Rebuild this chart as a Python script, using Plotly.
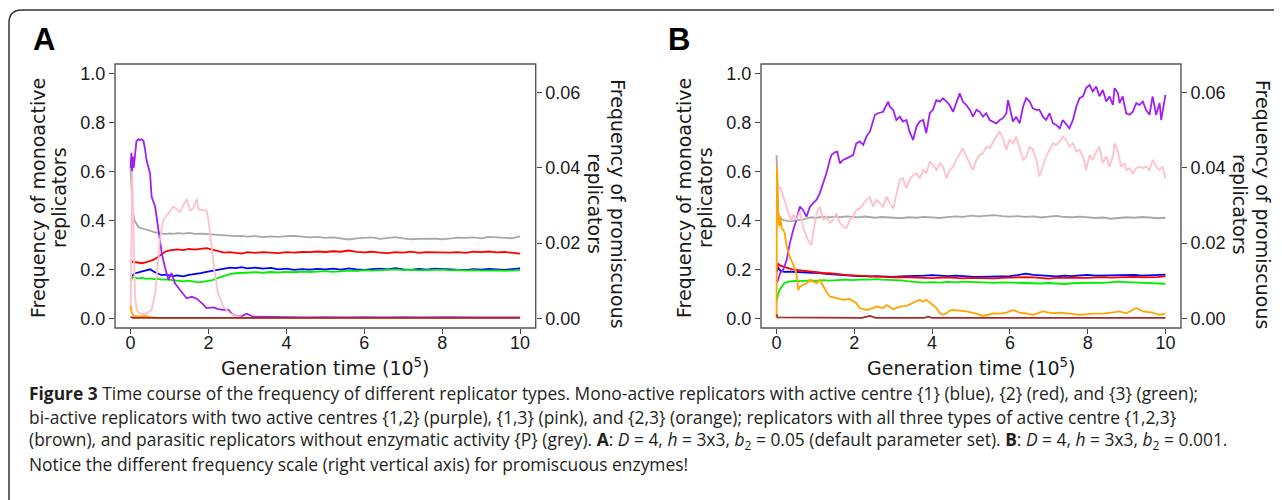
import plotly.graph_objects as go

W, H = 1282, 500
PAGE_OFFSET = 8  # default body margin of the html page

# ---- data ----
# generation time (10^5) used for mono-active and parasitic series
t_mono = [0, 0.05, 0.1, 0.2, 0.3, 0.4, 0.5, 0.6, 0.7, 0.8, 0.9, 1.0, 1.1, 1.2, 1.35, 1.5, 1.65, 1.8, 1.95,
          2.1, 2.25, 2.4, 2.55, 2.7, 2.85, 3.0, 3.2, 3.4, 3.6, 3.8, 4.0, 4.2, 4.4, 4.6, 4.8, 5.0, 5.2, 5.4,
          5.6, 5.8, 6.0, 6.2, 6.4, 6.6, 6.8, 7.0, 7.2, 7.4, 7.6, 7.8, 8.0, 8.2, 8.4, 8.6, 8.8, 9.0, 9.2,
          9.4, 9.6, 9.8, 10.0]

# panel A, left axis
a_grey = [0.62, 0.45, 0.40, 0.373, 0.367, 0.364, 0.358, 0.352, 0.350, 0.346, 0.344, 0.347, 0.345, 0.348,
          0.346, 0.349, 0.345, 0.346, 0.344, 0.343, 0.342, 0.340, 0.339, 0.336, 0.337, 0.334, 0.336, 0.332,
          0.335, 0.333, 0.336, 0.337, 0.334, 0.331, 0.333, 0.329, 0.331, 0.326, 0.322, 0.327, 0.328, 0.331,
          0.325, 0.329, 0.332, 0.327, 0.323, 0.325, 0.327, 0.326, 0.323, 0.328, 0.330, 0.329, 0.331, 0.327,
          0.333, 0.331, 0.329, 0.327, 0.335]
a_red = [0.228, 0.232, 0.23, 0.226, 0.225, 0.229, 0.234, 0.24, 0.25, 0.262, 0.273, 0.278, 0.28, 0.282,
         0.279, 0.284, 0.281, 0.283, 0.287, 0.281, 0.274, 0.268, 0.27, 0.266, 0.264, 0.27, 0.267, 0.27,
         0.268, 0.266, 0.27, 0.268, 0.271, 0.27, 0.273, 0.271, 0.274, 0.272, 0.277, 0.271, 0.269, 0.272,
         0.268, 0.266, 0.27, 0.268, 0.272, 0.267, 0.27, 0.269, 0.271, 0.268, 0.27, 0.267, 0.272, 0.27,
         0.273, 0.269, 0.271, 0.268, 0.264]
a_blue = [0.16, 0.175, 0.183, 0.188, 0.19, 0.196, 0.2, 0.19, 0.182, 0.176, 0.178, 0.174, 0.172, 0.175,
          0.171, 0.177, 0.18, 0.184, 0.19, 0.195, 0.198, 0.203, 0.207, 0.205, 0.209, 0.204, 0.207, 0.203,
          0.206, 0.2, 0.203, 0.198, 0.201, 0.199, 0.202, 0.2, 0.203, 0.199, 0.204, 0.2, 0.198, 0.201, 0.203,
          0.2, 0.205, 0.2, 0.198, 0.202, 0.199, 0.203, 0.201, 0.199, 0.2, 0.197, 0.201, 0.199, 0.202, 0.2,
          0.198, 0.201, 0.204]
a_green = [0.15, 0.168, 0.166, 0.163, 0.165, 0.161, 0.163, 0.16, 0.161, 0.158, 0.159, 0.157, 0.155, 0.156,
           0.151, 0.154, 0.149, 0.148, 0.151, 0.156, 0.165, 0.174, 0.18, 0.184, 0.186, 0.185, 0.188, 0.186,
           0.189, 0.187, 0.19, 0.188, 0.191, 0.189, 0.192, 0.193, 0.19, 0.194, 0.195, 0.193, 0.197, 0.195,
           0.196, 0.198, 0.2, 0.197, 0.199, 0.196, 0.198, 0.197, 0.199, 0.196, 0.198, 0.195, 0.197, 0.195,
           0.197, 0.196, 0.194, 0.196, 0.197]

# panel A, right axis (promiscuous)
a_purple_t = [0, 0.02, 0.04, 0.06, 0.08, 0.11, 0.15, 0.2, 0.24, 0.28, 0.33, 0.37, 0.41, 0.5, 0.54, 0.63,
              0.71, 0.8, 0.88, 0.97, 1.05, 1.14, 1.27, 1.44, 1.57, 1.7, 1.83, 1.95, 2.13, 2.25, 2.38, 2.51,
              2.6, 2.72, 2.85, 2.98, 3.15, 3.5, 4.0, 4.5, 5.0, 5.5, 6.0, 6.5, 7.0, 7.5, 8.0, 8.5, 9.0, 9.5, 10.0]
a_purple = [0.040, 0.044, 0.039, 0.043, 0.040, 0.043, 0.047, 0.0476, 0.0474, 0.0476, 0.0472, 0.045, 0.042,
            0.0385, 0.0323, 0.0297, 0.0235, 0.0173, 0.0137, 0.0102, 0.0120, 0.0093, 0.0075, 0.0053, 0.0057,
            0.0052, 0.0040, 0.0027, 0.0029, 0.0024, 0.0022, 0.0023, 0.0012, 0.0005, 0.0005, 0.0012, 0.0004,
            0.0003, 0.0003, 0.0002, 0.0003, 0.0002, 0.0003, 0.0002, 0.0003, 0.0002, 0.0003, 0.0002, 0.0002,
            0.0002, 0.0002]
a_pink_t = [0, 0.043, 0.11, 0.154, 0.24, 0.41, 0.54, 0.63, 0.71, 0.75, 0.84, 0.93, 1.01, 1.1, 1.27, 1.4,
            1.44, 1.53, 1.61, 1.7, 1.74, 1.87, 1.95, 2.0, 2.08, 2.16, 2.25, 2.38, 2.55, 2.72, 2.9, 4.0, 10.0]
a_pink = [0.002, 0.039, 0.0065, 0.0022, 0.0012, 0.0012, 0.0022, 0.0065, 0.0155, 0.0209, 0.0261, 0.0274,
          0.0287, 0.0297, 0.0283, 0.031, 0.0317, 0.0287, 0.0292, 0.0317, 0.029, 0.0287, 0.0287, 0.0261,
          0.0189, 0.012, 0.0065, 0.0031, 0.0013, 0.0005, 0.0001, 0.0001, 0.0001]
a_orange_t = [0, 0.03, 0.08, 0.2, 0.4, 0.5, 0.7, 10.0]
a_orange = [0.0033, 0.0015, 0.0006, 0.0005, 0.0006, 0.0003, 0.0001, 0.0001]
a_brown_t = [0, 0.05, 10.0]
a_brown = [0.0004, 0.0001, 0.0001]

# panel B, left axis
b_grey = [0.668, 0.425, 0.408, 0.40, 0.398, 0.397, 0.40, 0.402, 0.404, 0.409, 0.413, 0.41, 0.412, 0.415,
          0.413, 0.416, 0.414, 0.417, 0.415, 0.413, 0.416, 0.414, 0.411, 0.414, 0.412, 0.41, 0.409, 0.413,
          0.411, 0.415, 0.413, 0.41, 0.414, 0.417, 0.415, 0.42, 0.417, 0.419, 0.422, 0.418, 0.416, 0.418,
          0.415, 0.417, 0.412, 0.416, 0.419, 0.414, 0.413, 0.416, 0.412, 0.41, 0.412, 0.407, 0.41, 0.413,
          0.411, 0.414, 0.412, 0.409, 0.411]
b_red = [0.2, 0.222, 0.215, 0.209, 0.204, 0.2, 0.198, 0.196, 0.194, 0.19, 0.188, 0.189, 0.186, 0.185,
         0.184, 0.18, 0.179, 0.176, 0.175, 0.173, 0.171, 0.17, 0.169, 0.168, 0.169, 0.167, 0.168, 0.166,
         0.167, 0.165, 0.164, 0.166, 0.167, 0.165, 0.163, 0.165, 0.164, 0.166, 0.163, 0.165, 0.167, 0.166,
         0.168, 0.167, 0.165, 0.162, 0.165, 0.166, 0.164, 0.166, 0.165, 0.167, 0.168, 0.166, 0.168, 0.167,
         0.169, 0.167, 0.166, 0.168, 0.172]
b_blue = [0.19, 0.205, 0.193, 0.19, 0.191, 0.19, 0.189, 0.191, 0.19, 0.188, 0.186, 0.187, 0.184, 0.183,
          0.181, 0.179, 0.177, 0.175, 0.174, 0.172, 0.173, 0.17, 0.172, 0.17, 0.171, 0.169, 0.171, 0.172,
          0.17, 0.174, 0.176, 0.173, 0.172, 0.174, 0.171, 0.17, 0.169, 0.17, 0.168, 0.17, 0.172, 0.176,
          0.182, 0.177, 0.175, 0.173, 0.171, 0.174, 0.172, 0.175, 0.177, 0.174, 0.175, 0.173, 0.176, 0.175,
          0.177, 0.174, 0.176, 0.175, 0.178]
b_green = [0.07, 0.105, 0.122, 0.143, 0.15, 0.152, 0.153, 0.152, 0.154, 0.153, 0.155, 0.153, 0.155, 0.156,
           0.154, 0.156, 0.157, 0.158, 0.156, 0.158, 0.159, 0.158, 0.16, 0.158, 0.157, 0.159, 0.155, 0.151,
           0.148, 0.146, 0.148, 0.146, 0.149, 0.147, 0.15, 0.148, 0.146, 0.147, 0.145, 0.147, 0.146, 0.144,
           0.143, 0.145, 0.142, 0.144, 0.141, 0.14, 0.143, 0.145, 0.144, 0.146, 0.145, 0.147, 0.15, 0.148,
           0.147, 0.146, 0.145, 0.144, 0.141]

# panel B, right axis (promiscuous)
b_purple_t = [0, 0.04, 0.09, 0.17, 0.26, 0.34, 0.43, 0.51, 0.6, 0.68, 0.77, 0.86, 0.94, 1.03, 1.11, 1.2,
              1.28, 1.37, 1.41, 1.5, 1.56, 1.63, 1.71, 1.8, 1.88, 1.97, 2.05, 2.14, 2.23, 2.31, 2.4, 2.53,
              2.61, 2.74, 2.87, 2.91, 3.0, 3.08, 3.17, 3.25, 3.34, 3.42, 3.51, 3.6, 3.68, 3.77, 3.85, 3.94,
              4.02, 4.11, 4.2, 4.28, 4.37, 4.45, 4.54, 4.62, 4.71, 4.79, 4.88, 4.97, 5.05, 5.14, 5.22, 5.31,
              5.39, 5.48, 5.57, 5.65, 5.74, 5.82, 5.91, 5.95, 5.99, 6.08, 6.16, 6.25, 6.34, 6.42, 6.51, 6.59,
              6.68, 6.76, 6.85, 6.93, 7.02, 7.11, 7.19, 7.28, 7.36, 7.45, 7.53, 7.62, 7.71, 7.79, 7.88, 7.96,
              8.05, 8.13, 8.22, 8.3, 8.39, 8.48, 8.56, 8.65, 8.69, 8.78, 8.82, 8.9, 8.99, 9.08, 9.16, 9.25,
              9.33, 9.42, 9.5, 9.59, 9.67, 9.76, 9.85, 9.89, 9.93, 10.0]
b_purple = [0.0095, 0.0102, 0.0120, 0.0129, 0.0155, 0.0199, 0.0235, 0.0261, 0.0297, 0.0288, 0.0270, 0.0297,
            0.0306, 0.0315, 0.0332, 0.0359, 0.0385, 0.0421, 0.0434, 0.0441, 0.0443, 0.0412, 0.0421, 0.0425,
            0.0430, 0.0434, 0.0465, 0.0470, 0.0461, 0.0483, 0.0496, 0.0541, 0.0545, 0.0549, 0.0576, 0.0563,
            0.0554, 0.0527, 0.0536, 0.0523, 0.0527, 0.0496, 0.0474, 0.0510, 0.0523, 0.0527, 0.0492, 0.0545,
            0.0554, 0.0580, 0.0576, 0.0585, 0.0576, 0.0567, 0.0549, 0.0572, 0.0598, 0.0576, 0.0567, 0.0554,
            0.0536, 0.0554, 0.0549, 0.0536, 0.0545, 0.0527, 0.0523, 0.0518, 0.0527, 0.0532, 0.0545, 0.0580,
            0.0563, 0.0523, 0.0536, 0.0518, 0.0563, 0.0585, 0.0576, 0.0558, 0.0554, 0.0554, 0.0536, 0.0527,
            0.0545, 0.0518, 0.0514, 0.0505, 0.0527, 0.0514, 0.0505, 0.0527, 0.0563, 0.0585, 0.0590, 0.0612,
            0.0620, 0.0603, 0.0616, 0.0590, 0.0607, 0.0576, 0.0590, 0.0567, 0.0612, 0.0598, 0.0572, 0.0590,
            0.0545, 0.0541, 0.0549, 0.0572, 0.0567, 0.0576, 0.0554, 0.0541, 0.0590, 0.0541, 0.0572, 0.0527,
            0.0554, 0.0594]
b_pink_t = [0, 0.04, 0.09, 0.17, 0.26, 0.34, 0.38, 0.43, 0.51, 0.6, 0.68, 0.77, 0.86, 0.9, 0.94, 1.03,
            1.11, 1.2, 1.28, 1.37, 1.45, 1.54, 1.63, 1.71, 1.8, 1.88, 1.97, 2.05, 2.14, 2.23, 2.31, 2.4,
            2.48, 2.57, 2.65, 2.74, 2.83, 2.91, 3.0, 3.08, 3.17, 3.25, 3.34, 3.42, 3.51, 3.6, 3.68, 3.77,
            3.85, 3.94, 4.02, 4.11, 4.2, 4.28, 4.37, 4.45, 4.54, 4.62, 4.71, 4.79, 4.88, 4.97, 5.05, 5.14,
            5.22, 5.31, 5.39, 5.48, 5.57, 5.65, 5.74, 5.82, 5.91, 5.99, 6.08, 6.16, 6.25, 6.34, 6.42, 6.51,
            6.59, 6.68, 6.76, 6.85, 6.93, 7.02, 7.11, 7.19, 7.28, 7.36, 7.45, 7.53, 7.62, 7.71, 7.79, 7.88,
            7.96, 8.05, 8.13, 8.22, 8.3, 8.39, 8.48, 8.56, 8.65, 8.69, 8.78, 8.86, 8.95, 8.99, 9.08, 9.16,
            9.25, 9.33, 9.42, 9.5, 9.59, 9.67, 9.76, 9.85, 9.93, 10.0]
b_pink = [0.030, 0.0341, 0.0350, 0.0323, 0.0297, 0.0270, 0.0261, 0.0275, 0.0261, 0.0284, 0.0244, 0.0217,
          0.0199, 0.0195, 0.0226, 0.0279, 0.0297, 0.0261, 0.0270, 0.0253, 0.0261, 0.0279, 0.0253, 0.0244,
          0.0240, 0.0261, 0.0270, 0.0288, 0.0292, 0.0306, 0.0315, 0.0323, 0.0297, 0.0315, 0.0306, 0.0297,
          0.0323, 0.0306, 0.0292, 0.0328, 0.0368, 0.0372, 0.0346, 0.0368, 0.0381, 0.0385, 0.0372, 0.0394,
          0.0385, 0.0417, 0.0408, 0.0394, 0.0412, 0.0403, 0.0372, 0.0394, 0.0403, 0.0421, 0.0439, 0.0452,
          0.0430, 0.0412, 0.0394, 0.0421, 0.0434, 0.0439, 0.0456, 0.0452, 0.0470, 0.0483, 0.0496, 0.0479,
          0.0448, 0.0474, 0.0465, 0.0483, 0.0452, 0.0421, 0.0430, 0.0456, 0.0448, 0.0421, 0.0377, 0.0403,
          0.0430, 0.0448, 0.0465, 0.0461, 0.0470, 0.0483, 0.0474, 0.0456, 0.0465, 0.0443, 0.0448, 0.0430,
          0.0394, 0.0434, 0.0421, 0.0443, 0.0456, 0.0412, 0.0430, 0.0403, 0.0430, 0.0465, 0.0443, 0.0403,
          0.0412, 0.0394, 0.0399, 0.0385, 0.0399, 0.0403, 0.0399, 0.0403, 0.0394, 0.0421, 0.0403, 0.0394,
          0.0403, 0.0372]
b_orange_t = [0, 0.01, 0.04, 0.07, 0.1, 0.13, 0.17, 0.21, 0.26, 0.3, 0.34, 0.43, 0.51, 0.56, 0.6, 0.68,
              0.77, 0.86, 0.94, 1.03, 1.11, 1.2, 1.28, 1.37, 1.54, 1.71, 1.88, 2.05, 2.14, 2.31, 2.48, 2.57,
              2.74, 2.83, 3.0, 3.17, 3.34, 3.51, 3.6, 3.68, 3.77, 3.85, 4.02, 4.11, 4.2, 4.28, 4.37, 4.45,
              4.54, 4.71, 4.88, 5.14, 5.31, 5.57, 5.74, 5.91, 6.08, 6.25, 6.42, 6.59, 6.85, 7.11, 7.28, 7.53,
              7.79, 8.13, 8.48, 8.82, 8.99, 9.25, 9.42, 9.67, 9.85, 10.0]
b_orange = [0.0, 0.0403, 0.0270, 0.0244, 0.0270, 0.0239, 0.0235, 0.0226, 0.0190, 0.0177, 0.0164, 0.0142,
            0.0120, 0.0075, 0.0084, 0.0089, 0.0093, 0.0102, 0.0098, 0.0093, 0.0102, 0.0084, 0.0071, 0.0058,
            0.0054, 0.0049, 0.0051, 0.0040, 0.0027, 0.0022, 0.0027, 0.0031, 0.0027, 0.0035, 0.0024, 0.0031,
            0.0033, 0.0040, 0.0044, 0.0049, 0.0044, 0.0049, 0.0035, 0.0027, 0.0013, 0.0009, 0.0013, 0.0020,
            0.0022, 0.0020, 0.0018, 0.0012, 0.0006, 0.0013, 0.0012, 0.0015, 0.0022, 0.0015, 0.0013, 0.0009,
            0.0018, 0.0013, 0.0015, 0.0012, 0.0009, 0.0012, 0.0013, 0.0018, 0.0013, 0.0027, 0.0018, 0.0015,
            0.0009, 0.0013]
b_brown_t = [0, 0.03, 2.2, 2.4, 2.55, 3.8, 3.9, 4.0, 10.0]
b_brown = [0.0010, 0.0002, 0.0001, 0.0006, 0.0001, 0.0001, 0.0004, 0.0001, 0.0001]

colors = {"blue": "#0000FF", "red": "#FF0000", "green": "#00EE00", "purple": "#A020F0",
          "pink": "#FFC0CB", "orange": "#FFA500", "brown": "#A52A2A", "grey": "#A8A8A8"}

left_ticks = [0, 0.2, 0.4, 0.6, 0.8, 1.0]
right_ticks = [0, 0.02, 0.04, 0.06]
x_ticks = [0, 2, 4, 6, 8, 10]

caption = [
    "<b>Figure 3</b> Time course of the frequency of different replicator types. Mono-active replicators "
    "with active centre {1} (blue), {2} (red), and {3} (green);",
    "bi-active replicators with two active centres {1,2} (purple), {1,3} (pink), and {2,3} (orange); "
    "replicators with all three types of active centre {1,2,3}",
    "(brown), and parasitic replicators without enzymatic activity {P} (grey). <b>A</b>: <i>D</i> = 4, "
    "<i>h</i> = 3x3, <i>b</i><sub>2</sub> = 0.05 (default parameter set). <b>B</b>: <i>D</i> = 4, "
    "<i>h</i> = 3x3, <i>b</i><sub>2</sub> = 0.001.",
    "Notice the different frequency scale (right vertical axis) for promiscuous enzymes!",
]


# screen pixel -> paper fraction (the page adds an 8 px margin around the figure)
def px(x):
    return (x - PAGE_OFFSET) / W


def py(y):
    return 1 - (y - PAGE_OFFSET) / H


fig = go.Figure()

panels = [
    dict(letter="A", xa="x", ya="y", ya2="y2", left=115, right=535.7, letter_x=44,
         mono=dict(grey=a_grey, blue=a_blue, red=a_red, green=a_green),
         prom=dict(purple=(a_purple_t, a_purple), pink=(a_pink_t, a_pink),
                   orange=(a_orange_t, a_orange), brown=(a_brown_t, a_brown))),
    dict(letter="B", xa="x2", ya="y3", ya2="y4", left=761, right=1181, letter_x=679,
         mono=dict(grey=b_grey, blue=b_blue, red=b_red, green=b_green),
         prom=dict(purple=(b_purple_t, b_purple), pink=(b_pink_t, b_pink),
                   orange=(b_orange_t, b_orange), brown=(b_brown_t, b_brown))),
]

for p in panels:
    for name in ["grey", "blue", "red", "green"]:
        fig.add_trace(go.Scatter(x=t_mono, y=p["mono"][name], mode="lines", xaxis=p["xa"], yaxis=p["ya"],
                                 line=dict(color=colors[name], width=1.8), showlegend=False))
    for name in ["purple", "pink", "orange", "brown"]:
        tt, vv = p["prom"][name]
        fig.add_trace(go.Scatter(x=tt, y=vv, mode="lines", xaxis=p["xa"], yaxis=p["ya2"],
                                 line=dict(color=colors[name], width=1.8), showlegend=False))

tick_font = dict(family="Liberation Sans, Arial, sans-serif", size=18, color="#1a1a1a")
title_font = dict(family="DejaVu Sans, sans-serif", size=19, color="#1a1a1a")
ydom = [py(328), py(64)]
scale = 0.065

axis_common = dict(showgrid=False, zeroline=False, showline=False, ticks="outside", ticklen=5,
                   tickwidth=1.2, tickcolor="#444", tickfont=tick_font, automargin=False)

for i, p in enumerate(panels):
    xname = "xaxis" if i == 0 else "xaxis2"
    yname = "yaxis" if i == 0 else "yaxis3"
    y2name = "yaxis2" if i == 0 else "yaxis4"
    fig.update_layout({
        xname: dict(axis_common, domain=[px(p["left"]), px(p["right"])], range=[-0.4, 10.4],
                    tickvals=x_ticks, anchor=p["ya"], ticklabelstandoff=-7),
        yname: dict(axis_common, domain=ydom, range=[-0.04, 1.04], tickvals=left_ticks,
                    tickformat=".1f", anchor=p["xa"]),
        y2name: dict(axis_common, overlaying=p["ya"], side="right", anchor=p["xa"],
                     range=[-0.04 * scale, 1.04 * scale], tickvals=right_ticks, tickformat=".2f"),
    })

    # box around the plotting region
    fig.add_shape(type="rect", xref=p["xa"] + " domain", yref=p["ya"] + " domain",
                  x0=0, x1=1, y0=0, y1=1, line=dict(color="#555", width=1.4), layer="above")

    mid_x = (p["left"] + p["right"]) / 2
    ann = [
        dict(text="<b>" + p["letter"] + "</b>", x=px(p["letter_x"]), y=py(39),
             font=dict(family="Liberation Sans, Arial, sans-serif", size=31, color="#000")),
        dict(text="Frequency of monoactive", x=px(p["left"] - 77), y=py(198), textangle=-90, font=title_font),
        dict(text="replicators", x=px(p["left"] - 56), y=py(198), textangle=-90, font=title_font),
        dict(text="Frequency of promiscuous", x=px(p["right"] + 82), y=py(204), textangle=90, font=title_font),
        dict(text="replicators", x=px(p["right"] + 59), y=py(204), textangle=90, font=title_font),
        dict(text="Generation time (10<sup>5</sup>)", x=px(mid_x), y=py(367), font=title_font),
    ]
    for a in ann:
        a.update(xref="paper", yref="paper", xanchor="center", yanchor="middle", showarrow=False)
        fig.add_annotation(**a)

for k, line in enumerate(caption):
    fig.add_annotation(text=line, x=px(27), y=py(393 + 23.7 * k), xref="paper", yref="paper",
                       xanchor="left", yanchor="middle", showarrow=False, align="left",
                       font=dict(family="Open Sans, sans-serif", size=17.4, color="#231f20"))

# rounded frame around the whole figure
fig.add_shape(type="path", xref="paper", yref="paper",
              path=f"M {px(9)},{py(520)} L {px(9)},{py(23)} Q {px(9)},{py(10)} {px(22)},{py(10)} L {px(1300)},{py(10)}",
              line=dict(color="#333", width=1.5))

fig.update_layout(width=W, height=H, margin=dict(l=0, r=0, t=0, b=0), paper_bgcolor="white",
                  plot_bgcolor="white", showlegend=False)

fig.write_html("out.html")
